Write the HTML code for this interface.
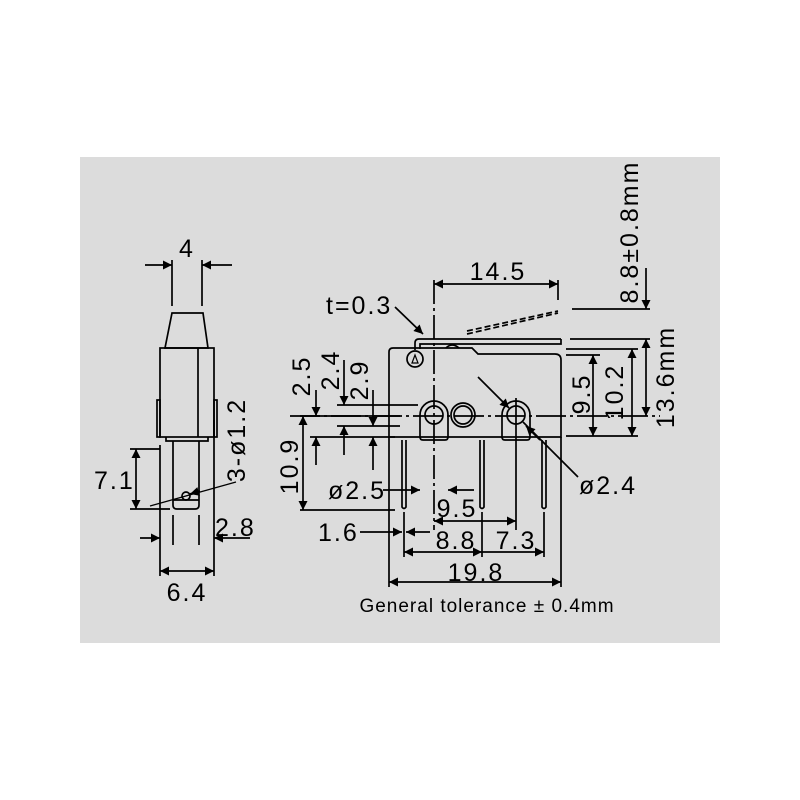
<!DOCTYPE html>
<html><head><meta charset="utf-8"><style>
html,body{margin:0;padding:0;background:#fff;width:800px;height:800px;overflow:hidden}
text{font-family:"Liberation Sans",sans-serif;font-size:25px;letter-spacing:2px;fill:#000}
</style></head><body>
<svg width="800" height="800" viewBox="0 0 800 800" xmlns="http://www.w3.org/2000/svg">
<defs>
<marker id="a" viewBox="0 0 10 10" refX="10" refY="5" markerWidth="16" markerHeight="9" markerUnits="userSpaceOnUse" orient="auto-start-reverse"><path d="M0,0 L10,5 L0,10 z" fill="#000"/></marker>
</defs>
<rect x="80" y="157" width="640" height="486" fill="#dcdcdc"/>
<g stroke="#000" stroke-width="1.7" fill="none">
<line x1="172" y1="260" x2="172" y2="306"/><line x1="202" y1="260" x2="202" y2="306"/>
<line x1="145" y1="265" x2="172" y2="265" marker-end="url(#a)"/><line x1="232" y1="265" x2="202" y2="265" marker-end="url(#a)"/>
<path d="M172,313 L203,313 L208,348 L165,348 Z"/>
<rect x="160" y="348" width="54" height="89"/>
<line x1="198" y1="348" x2="198" y2="437"/>
<rect x="157" y="400" width="3" height="37"/><rect x="214" y="400" width="3" height="37"/>
<path d="M166,437 L166,441 L208,441 L208,437"/>
<path d="M173,441 L173,505 Q173,509 177,509 L195,509 Q199,509 199,505 L199,441"/>
<line x1="173" y1="500" x2="199" y2="500"/>
<circle cx="186" cy="496" r="4"/>
<line x1="130" y1="449" x2="160" y2="449"/><line x1="130" y1="509" x2="170" y2="509"/>
<line x1="136" y1="449" x2="136" y2="509" marker-start="url(#a)" marker-end="url(#a)"/>
<line x1="150" y1="506" x2="236" y2="482" stroke-width="1.2"/>
<line x1="200" y1="491" x2="190" y2="494" marker-end="url(#a)"/>
<line x1="160" y1="445" x2="160" y2="576"/><line x1="214" y1="420" x2="214" y2="576"/>
<line x1="173" y1="515" x2="173" y2="545"/><line x1="199" y1="515" x2="199" y2="545"/>
<line x1="140" y1="538" x2="160" y2="538" marker-end="url(#a)"/><line x1="250" y1="538" x2="214" y2="538" marker-end="url(#a)"/>
<line x1="160" y1="571" x2="214" y2="571" marker-start="url(#a)" marker-end="url(#a)"/>

<path d="M389,437 L389,352 Q389,348 393,348 L472,348 L478,354 L555,354 Q561,354 561,360 L561,437 Z"/>
<path d="M415,350 L415,343 Q415,339 419,339 L561,339"/>
<path d="M420,349 L420,344 L561,344 L561,339"/>
<path d="M446,348 Q452,342 459,348"/>
<line x1="467" y1="334" x2="558" y2="313" stroke-dasharray="6,3"/>
<line x1="467" y1="331" x2="558" y2="311" stroke-dasharray="6,3"/>
<circle cx="415" cy="359" r="8"/>
<path d="M412,363 L415,355 L418,363 Z" stroke-width="1.2"/>
<path d="M420,415 A14,14 0 0 1 448,415 L448,437 Q448,440 445,440 L423,440 Q420,440 420,437 Z"/>
<circle cx="434" cy="415" r="9"/>
<circle cx="463" cy="415" r="12"/><circle cx="463" cy="415" r="9"/>
<path d="M502,415 A14,14 0 0 1 530,415 L530,437 Q530,440 527,440 L505,440 Q502,440 502,437 Z"/>
<circle cx="516" cy="415" r="9"/>
<path d="M402,440 L402,507 Q404,510 406,507 L406,440"/>
<path d="M480,440 L480,507 Q482,510 484,507 L484,440"/>
<path d="M542,440 L542,507 Q544,510 546,507 L546,440"/>
<line x1="434" y1="280" x2="434" y2="530" stroke-dasharray="24,4,3,4"/>
<line x1="516" y1="398" x2="516" y2="530"/>
<line x1="290" y1="416" x2="660" y2="416" stroke-dasharray="30,4,3,4"/>
<line x1="558" y1="280" x2="558" y2="300"/>
<line x1="434" y1="284" x2="558" y2="284" marker-start="url(#a)" marker-end="url(#a)"/>
<line x1="395" y1="307" x2="423" y2="334" marker-end="url(#a)"/>
<line x1="572" y1="309" x2="650" y2="309"/><line x1="570" y1="339" x2="650" y2="339"/>
<line x1="646" y1="268" x2="646" y2="309" marker-end="url(#a)"/>
<line x1="646" y1="339" x2="646" y2="416" marker-start="url(#a)" marker-end="url(#a)"/>
<line x1="566" y1="349" x2="638" y2="349"/><line x1="566" y1="355" x2="600" y2="355"/>
<line x1="566" y1="436" x2="638" y2="436"/>
<line x1="593" y1="355" x2="593" y2="436" marker-start="url(#a)" marker-end="url(#a)"/>
<line x1="632" y1="349" x2="632" y2="436" marker-start="url(#a)" marker-end="url(#a)"/>
<line x1="337" y1="405" x2="418" y2="405"/><line x1="300" y1="416" x2="400" y2="416"/>
<line x1="337" y1="426" x2="400" y2="426"/><line x1="310" y1="437" x2="395" y2="437"/>
<line x1="316" y1="390" x2="316" y2="416" marker-end="url(#a)"/><line x1="316" y1="465" x2="316" y2="437" marker-end="url(#a)"/>
<line x1="344" y1="360" x2="344" y2="405" marker-end="url(#a)"/><line x1="344" y1="455" x2="344" y2="426" marker-end="url(#a)"/>
<line x1="373" y1="390" x2="373" y2="426" marker-end="url(#a)"/><line x1="373" y1="470" x2="373" y2="437" marker-end="url(#a)"/>
<line x1="303" y1="416" x2="303" y2="510" marker-start="url(#a)" marker-end="url(#a)"/>
<line x1="300" y1="510" x2="395" y2="510"/>
<line x1="383" y1="490" x2="420" y2="490" marker-end="url(#a)"/><line x1="474" y1="490" x2="448" y2="490" marker-end="url(#a)"/>
<line x1="434" y1="521" x2="516" y2="521" marker-start="url(#a)" marker-end="url(#a)"/>
<line x1="360" y1="532" x2="402" y2="532" marker-end="url(#a)"/><line x1="430" y1="532" x2="406" y2="532" marker-end="url(#a)"/>
<line x1="389" y1="437" x2="389" y2="587"/><line x1="561" y1="437" x2="561" y2="587"/>
<line x1="404" y1="512" x2="404" y2="557"/><line x1="482" y1="512" x2="482" y2="557"/><line x1="544" y1="512" x2="544" y2="557"/>
<line x1="404" y1="552" x2="482" y2="552" marker-start="url(#a)" marker-end="url(#a)"/>
<line x1="482" y1="552" x2="544" y2="552" marker-end="url(#a)"/>
<line x1="389" y1="582" x2="561" y2="582" marker-start="url(#a)" marker-end="url(#a)"/>
<line x1="478" y1="377" x2="509" y2="408" marker-end="url(#a)"/>
<line x1="523" y1="422" x2="578" y2="477"/>
<line x1="540" y1="440" x2="526" y2="426" marker-end="url(#a)"/>
</g>
<g>
<text x="187" y="257" text-anchor="middle">4</text>
<text x="94" y="489">7.1</text>
<text x="215" y="536">2.8</text>
<text x="187" y="601" text-anchor="middle">6.4</text>
<text transform="translate(245,440) rotate(-90)" text-anchor="middle">3-ø1.2</text>
<text x="498" y="280" text-anchor="middle">14.5</text>
<text x="326" y="314">t=0.3</text>
<text transform="translate(638,232) rotate(-90)" text-anchor="middle">8.8±0.8mm</text>
<text transform="translate(674,377) rotate(-90)" text-anchor="middle">13.6mm</text>
<text transform="translate(590,394) rotate(-90)" text-anchor="middle">9.5</text>
<text transform="translate(623,392) rotate(-90)" text-anchor="middle">10.2</text>
<text transform="translate(310,376) rotate(-90)" text-anchor="middle">2.5</text>
<text transform="translate(339,370) rotate(-90)" text-anchor="middle">2.4</text>
<text transform="translate(368,380) rotate(-90)" text-anchor="middle">2.9</text>
<text transform="translate(298,466) rotate(-90)" text-anchor="middle">10.9</text>
<text x="328" y="499">ø2.5</text>
<text x="457" y="517" text-anchor="middle">9.5</text>
<text x="318" y="541">1.6</text>
<text x="456" y="549" text-anchor="middle">8.8</text>
<text x="516" y="549" text-anchor="middle">7.3</text>
<text x="476" y="581" text-anchor="middle">19.8</text>
<text x="579" y="494">ø2.4</text>
<text x="487" y="612" text-anchor="middle" style="font-size:19px;letter-spacing:1px">General tolerance ± 0.4mm</text>
</g>
</svg>
</body></html>
